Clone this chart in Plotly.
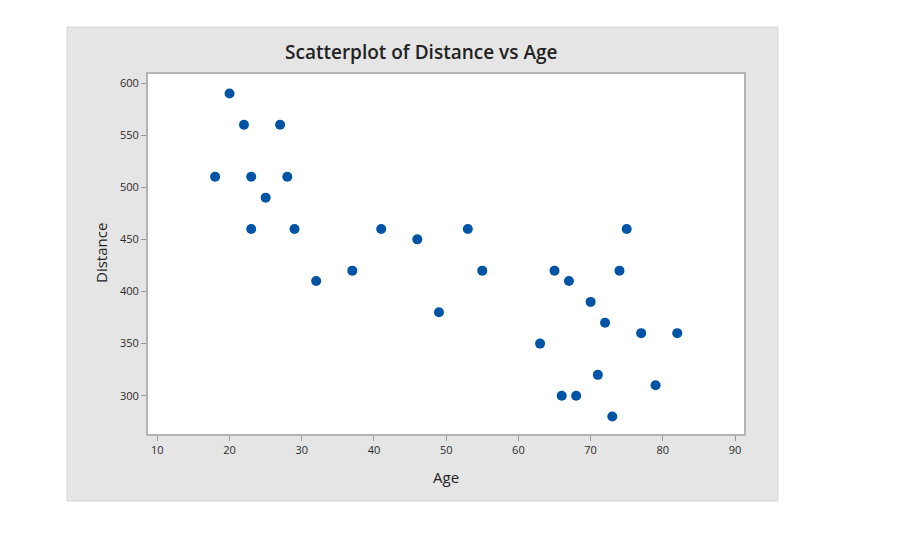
import plotly.graph_objects as go

age = [18, 20, 22, 23, 23, 25, 27, 28, 29, 32, 37, 41, 46, 49, 53, 55,
       63, 65, 66, 67, 68, 70, 71, 72, 73, 74, 75, 77, 79, 82]
distance = [510, 590, 560, 510, 460, 490, 560, 510, 460, 410, 420, 460, 450, 380, 460, 420,
            350, 420, 300, 410, 300, 390, 320, 370, 280, 420, 460, 360, 310, 360]
x_ticks = [10, 20, 30, 40, 50, 60, 70, 80, 90]
y_ticks = [300, 350, 400, 450, 500, 550, 600]

FONT = "Open Sans"
L, R, T, B = 147, 745, 73, 435
W, H = 908, 550

def px(x):
    return (x - L) / (R - L)

def py(y):
    return (B - y) / (B - T)

fig = go.Figure()
fig.add_trace(go.Scatter(
    x=age, y=distance, mode="markers",
    marker=dict(color="#0054a6", size=10, line=dict(width=0)),
    showlegend=False, hoverinfo="x+y",
))

fig.update_layout(
    width=W, height=H,
    margin=dict(l=L, r=W - R, t=T, b=H - B),
    paper_bgcolor="white",
    plot_bgcolor="white",
    font=dict(family=FONT, color="#333333"),
    shapes=[
        dict(type="rect", xref="paper", yref="paper",
             x0=px(67), x1=px(778), y0=py(501), y1=py(27),
             fillcolor="#e5e5e5", line=dict(color="#d6d6d6", width=1),
             layer="below"),
        dict(type="rect", xref="paper", yref="paper",
             x0=0, x1=1, y0=0, y1=1,
             fillcolor="white", line=dict(color="#b4b4b4", width=2),
             layer="below"),
    ],
    annotations=[
        dict(text="Scatterplot of Distance vs Age", xref="paper", yref="paper",
             x=px(421), y=py(52), xanchor="center", yanchor="middle",
             showarrow=False, font=dict(family=FONT, size=19, weight=600, color="#222222")),
        dict(text="Age", xref="paper", yref="paper",
             x=px(446), y=py(477), xanchor="center", yanchor="middle",
             showarrow=False, font=dict(family=FONT, size=15, color="#222222")),
        dict(text="Distance", xref="paper", yref="paper",
             x=px(101), y=py(253), xanchor="center", yanchor="middle",
             textangle=-90,
             showarrow=False, font=dict(family=FONT, size=15, color="#222222")),
    ],
    xaxis=dict(
        range=[8.57, 91.38], tickvals=x_ticks, ticktext=[str(v) for v in x_ticks],
        showgrid=False, zeroline=False, showline=False,
        ticks="outside", ticklen=5, tickcolor="#999999", tickwidth=1,
        tickfont=dict(family=FONT, size=11, color="#2a2a2a"),
        fixedrange=True,
    ),
    yaxis=dict(
        range=[262.3, 609.6], tickvals=y_ticks, ticktext=[str(v) for v in y_ticks],
        showgrid=False, zeroline=False, showline=False,
        ticks="outside", ticklen=5, tickcolor="#999999", tickwidth=1,
        tickfont=dict(family=FONT, size=11, color="#2a2a2a"),
        fixedrange=True,
    ),
)

fig.write_html("out.html")
